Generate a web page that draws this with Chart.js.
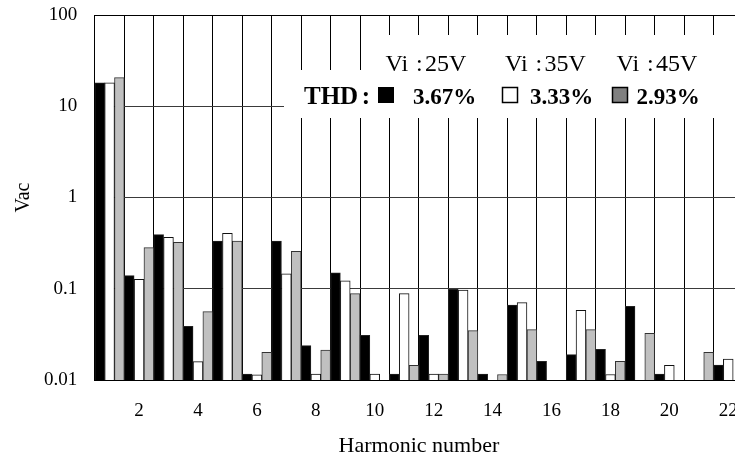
<!DOCTYPE html>
<html><head><meta charset="utf-8">
<script src="https://cdn.jsdelivr.net/npm/chart.js@4/dist/chart.umd.min.js"></script>
<style>
html,body{margin:0;padding:0;background:#fff;overflow:hidden;width:735px;height:459px;}
#wrap{position:relative;width:750px;height:459px;}
canvas{display:block;}
</style></head><body>
<div id="wrap"><canvas id="c" width="750" height="459"></canvas></div>
<script>
// Harmonic numbers (categories)
const harmonics = ['1','2','3','4','5','6','7','8','9','10','11','12','13','14','15','16','17','18','19','20','21','22'];
// Vac per harmonic (null = no visible bar)
const vi25 = [18.1, 0.139, 0.392, 0.0387, 0.334, 0.0116, 0.334, 0.0238, 0.149, 0.0309, 0.0116, 0.0309, 0.0986, 0.0116, 0.0664, 0.016, 0.019, 0.0217, 0.0642, 0.0116, null, 0.0146];
const vi35 = [18.1, 0.127, 0.366, 0.0159, 0.405, 0.0114, 0.146, 0.0116, 0.122, 0.0116, 0.0883, 0.0116, 0.0968, null, 0.0704, null, 0.058, 0.0115, null, 0.0145, null, 0.017];
const vi45 = [20.6, 0.282, 0.323, 0.0561, 0.332, 0.0201, 0.257, 0.0213, 0.0883, null, 0.0145, 0.0116, 0.0347, 0.0115, 0.0356, null, 0.0356, 0.016, 0.0325, null, 0.0201, null];
const yTickValues = [0.01, 0.1, 1, 10, 100];
const voltages = ['25V', '35V', '45V'];
const thdValues = ['3.67%', '3.33%', '2.93%'];

const SERIF = '"Liberation Serif", "Times New Roman", serif';

const legendPlugin = {
  id: 'thdLegend',
  afterDraw(chart) {
    const ctx = chart.ctx;
    ctx.save();
    ctx.fillStyle = '#fff';
    ctx.fillRect(372, 35, 400, 36);
    ctx.fillRect(284, 70, 500, 48);
    ctx.fillStyle = '#000';
    ctx.textBaseline = 'alphabetic';
    ctx.font = '24px ' + SERIF;
    const viX = [385.5, 505, 616.5];
    viX.forEach((x, i) => {
      ctx.textAlign = 'left';
      ctx.fillText('Vi', x, 71);
      ctx.textAlign = 'center';
      ctx.fillText(':', x + 33.8, 71);
      ctx.textAlign = 'left';
      ctx.fillText(voltages[i], x + 39.5, 71);
    });
    ctx.font = 'bold 25px ' + SERIF;
    ctx.textAlign = 'left';
    ctx.fillText('THD', 304, 103.5);
    ctx.textAlign = 'center';
    ctx.fillText(':', 366, 103.5);
    // swatches
    ctx.fillStyle = '#000';
    ctx.fillRect(378, 87, 16, 16);
    ctx.lineWidth = 1.5;
    ctx.strokeStyle = '#000';
    ctx.fillStyle = '#fff';
    ctx.fillRect(502.5, 87.5, 15, 15);
    ctx.strokeRect(502.5, 87.5, 15, 15);
    ctx.fillStyle = '#808080';
    ctx.fillRect(612.5, 87.5, 15, 15);
    ctx.strokeRect(612.5, 87.5, 15, 15);
    ctx.fillStyle = '#000';
    ctx.font = 'bold 23px ' + SERIF;
    ctx.textAlign = 'left';
    const pX = [413, 530, 636.5];
    pX.forEach((x, i) => ctx.fillText(thdValues[i], x, 103.5));
    ctx.restore();
  }
};

new Chart(document.getElementById('c'), {
  type: 'bar',
  data: {
    labels: harmonics,
    datasets: [
      { label: 'Vi:25V', data: vi25, backgroundColor: '#000', borderColor: '#222', borderWidth: 1 },
      { label: 'Vi:35V', data: vi35, backgroundColor: '#fff', borderColor: '#111', borderWidth: 1 },
      { label: 'Vi:45V', data: vi45, backgroundColor: '#c0c0c0', borderColor: '#333', borderWidth: 1 }
    ]
  },
  options: {
    responsive: false,
    animation: false,
    devicePixelRatio: 1,
    layout: { padding: { top: 15, right: 7, left: 0, bottom: 0 } },
    datasets: { bar: { categoryPercentage: 1, barPercentage: 1 } },
    plugins: { legend: { display: false }, tooltip: { enabled: false } },
    scales: {
      x: {
        type: 'category',
        offset: true,
        grid: { display: true, color: '#000', lineWidth: 1, drawTicks: false, offset: true },
        border: { display: true, color: '#000', width: 1 },
        ticks: {
          autoSkip: false, maxRotation: 0, minRotation: 0, padding: 20,
          color: '#000', font: { family: SERIF, size: 19 },
          callback: function(v, i) { const l = harmonics[i]; return (Number(l) % 2 === 0) ? l : ''; }
        },
        title: { display: true, text: 'Harmonic number', color: '#000', font: { family: SERIF, size: 22 }, padding: { top: 0, bottom: 0 } },
        afterFit: function(s) { s.height = 79; s.paddingLeft = 0; s.paddingRight = 0; }
      },
      y: {
        type: 'logarithmic',
        min: 0.01, max: 100,
        afterBuildTicks: function(s) { s.ticks = yTickValues.map(v => ({ value: v })); },
        grid: {
          drawTicks: false, lineWidth: 1,
          color: function(c) { const v = c.tick && c.tick.value; return (v === 100 || v === 0.01) ? '#000' : '#3a3a3a'; }
        },
        border: { display: true, color: '#000', width: 1 },
        ticks: {
          padding: 17.5, color: '#000', font: { family: SERIF, size: 19 },
          callback: function(v) { return String(v); }
        },
        title: { display: true, text: 'Vac', color: '#000', font: { family: SERIF, size: 20 }, padding: { top: 12, bottom: 0 } },
        afterFit: function(s) { s.width = 94.85; s.paddingTop = 0; s.paddingBottom = 0; }
      }
    }
  },
  plugins: [legendPlugin]
});
</script>
</body></html>
